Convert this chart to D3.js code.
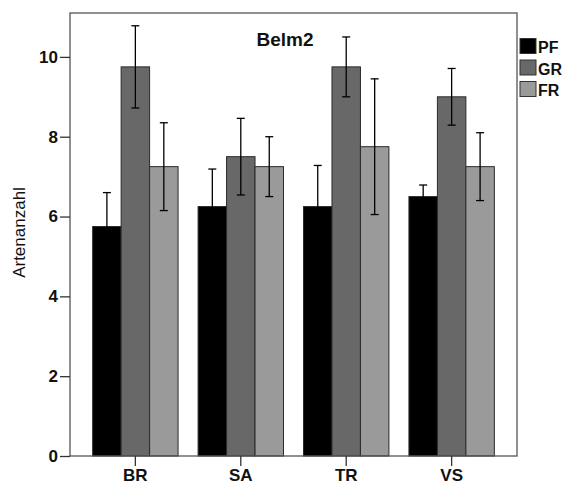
<!DOCTYPE html>
<html><head><meta charset="utf-8">
<script src="https://cdn.jsdelivr.net/npm/d3@7"></script>
<style>body{margin:0;background:#fff;}svg{display:block;font-family:"Liberation Sans",Arial,sans-serif;}</style>
</head><body><svg id="c" width="568" height="486"></svg>
<script>
const categories = ["BR","SA","TR","VS"];
const seriesNames = ["PF","GR","FR"];
const seriesColors = ["#000000","#686868","#9a9a9a"];
const meanPF = [5.75, 6.25, 6.25, 6.5];
const meanGR = [9.75, 7.5, 9.75, 9.0];
const meanFR = [7.25, 7.25, 7.75, 7.25];
const errPF = [0.85, 0.94, 1.03, 0.29];
const errGR = [1.03, 0.96, 0.75, 0.71];
const errFR = [1.1, 0.75, 1.7, 0.85];
const yTicks = [0,2,4,6,8,10];
const title = "Belm2";
const yLabel = "Artenanzahl";

const means = [meanPF, meanGR, meanFR];
const errs = [errPF, errGR, errFR];

const svg = d3.select("#c");
const L = 70, R = 517, T = 13, B = 456;
const x0 = d3.scaleBand().domain(categories).range([L, R]).paddingInner(0.19).paddingOuter(0.215);
const x1 = d3.scaleBand().domain(seriesNames).range([0, x0.bandwidth()]);
const y = d3.scaleLinear().domain([0, 11.1]).range([B, T]);

const data = [];
categories.forEach((c, i) => seriesNames.forEach((s, j) => data.push({c, s, j, v: means[j][i], e: errs[j][i]})));

// bars
svg.append("g").selectAll("rect").data(data).join("rect")
  .attr("x", d => x0(d.c) + x1(d.s))
  .attr("y", d => y(d.v))
  .attr("width", x1.bandwidth())
  .attr("height", d => y(0) - y(d.v))
  .attr("fill", d => seriesColors[d.j])
  .attr("stroke", "#2a2a2a").attr("stroke-width", 1);

// error bars
const eg = svg.append("g").attr("stroke", "#000").attr("stroke-width", 1.3).attr("fill", "none");
data.forEach(d => {
  const cx = x0(d.c) + x1(d.s) + x1.bandwidth() / 2;
  const g = eg.append("g");
  g.append("line").attr("x1", cx).attr("x2", cx).attr("y1", y(d.v + d.e)).attr("y2", y(d.v - d.e));
  g.append("line").attr("x1", cx - 4).attr("x2", cx + 4).attr("y1", y(d.v + d.e)).attr("y2", y(d.v + d.e));
  g.append("line").attr("x1", cx - 4).attr("x2", cx + 4).attr("y1", y(d.v - d.e)).attr("y2", y(d.v - d.e));
});

// frame
svg.append("rect").attr("x", L).attr("y", T).attr("width", R - L).attr("height", B - T)
  .attr("fill", "none").attr("stroke", "#555").attr("stroke-width", 1.3);

// axes
const yAxis = svg.append("g").attr("transform", `translate(${L},0)`)
  .call(d3.axisLeft(y).tickValues(yTicks).tickSize(10).tickPadding(2).tickFormat(d3.format("d")));
yAxis.select(".domain").remove();
yAxis.selectAll("line").attr("stroke", "#333").attr("stroke-width", 1.3);
yAxis.selectAll("text").attr("font-size", 17).attr("font-weight", "bold").attr("fill", "#111")
  .attr("font-family", "Liberation Sans, Arial, sans-serif");

const xAxis = svg.append("g").attr("transform", `translate(0,${B})`)
  .call(d3.axisBottom(x0).tickSize(10).tickPadding(3));
xAxis.select(".domain").remove();
xAxis.selectAll("line").attr("stroke", "#333").attr("stroke-width", 1.3);
xAxis.selectAll("text").attr("font-size", 17).attr("font-weight", "bold").attr("fill", "#111")
  .attr("font-family", "Liberation Sans, Arial, sans-serif");

// title
svg.append("text").attr("x", 285).attr("y", 46).attr("text-anchor", "middle")
  .attr("font-size", 19).attr("font-weight", "bold").attr("fill", "#111").text(title);

// y label
svg.append("text").attr("transform", "translate(24.5,232.5) rotate(-90)").attr("text-anchor", "middle")
  .attr("font-size", 17).attr("fill", "#111").text(yLabel);

// legend
const lg = svg.append("g");
seriesNames.forEach((s, j) => {
  const yy = 38.5 + j * 21.5;
  lg.append("rect").attr("x", 520).attr("y", yy).attr("width", 16).attr("height", 15)
    .attr("fill", seriesColors[j]).attr("stroke", "#333").attr("stroke-width", 1);
  lg.append("text").attr("x", 538).attr("y", yy + 14.5).attr("font-size", 16).attr("font-weight", "bold")
    .attr("fill", "#111").text(s);
});
</script></body></html>
